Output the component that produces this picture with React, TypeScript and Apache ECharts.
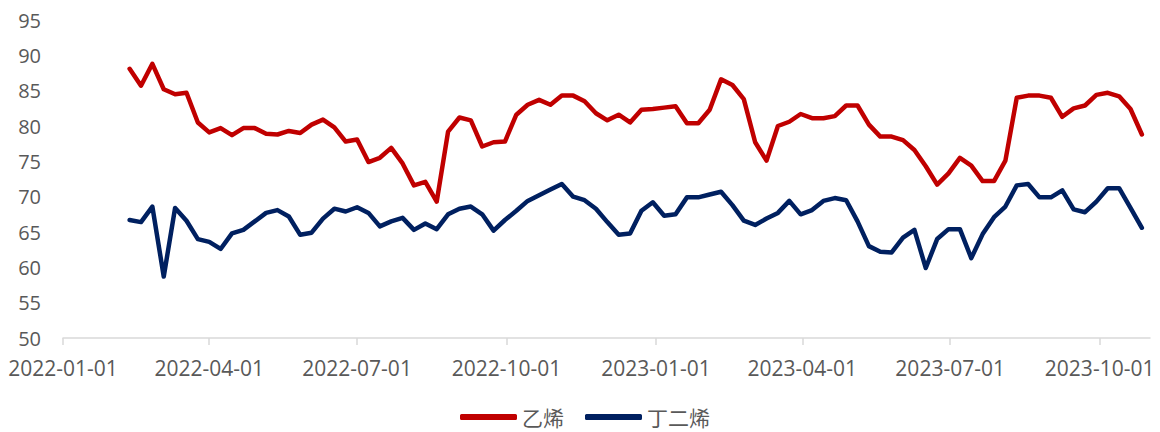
import React, { useEffect, useRef } from "react";
import * as echarts from "echarts";

const weekDates: string[] = [
  "2022-02-11", "2022-02-18", "2022-02-25", "2022-03-04", "2022-03-11", "2022-03-18", "2022-03-25",
  "2022-04-01", "2022-04-08", "2022-04-15", "2022-04-22", "2022-04-29", "2022-05-06", "2022-05-13",
  "2022-05-20", "2022-05-27", "2022-06-03", "2022-06-10", "2022-06-17", "2022-06-24", "2022-07-01",
  "2022-07-08", "2022-07-15", "2022-07-22", "2022-07-29", "2022-08-05", "2022-08-12", "2022-08-19",
  "2022-08-26", "2022-09-02", "2022-09-09", "2022-09-16", "2022-09-23", "2022-09-30", "2022-10-07",
  "2022-10-14", "2022-10-21", "2022-10-28", "2022-11-04", "2022-11-11", "2022-11-18", "2022-11-25",
  "2022-12-02", "2022-12-09", "2022-12-16", "2022-12-23", "2022-12-30", "2023-01-06", "2023-01-13",
  "2023-01-20", "2023-01-27", "2023-02-03", "2023-02-10", "2023-02-17", "2023-02-24", "2023-03-03",
  "2023-03-10", "2023-03-17", "2023-03-24", "2023-03-31", "2023-04-07", "2023-04-14", "2023-04-21",
  "2023-04-28", "2023-05-05", "2023-05-12", "2023-05-19", "2023-05-26", "2023-06-02", "2023-06-09",
  "2023-06-16", "2023-06-23", "2023-06-30", "2023-07-07", "2023-07-14", "2023-07-21", "2023-07-28",
  "2023-08-04", "2023-08-11", "2023-08-18", "2023-08-25", "2023-09-01", "2023-09-08", "2023-09-15",
  "2023-09-22", "2023-09-29", "2023-10-06", "2023-10-13", "2023-10-20", "2023-10-27",
];

const ethylene: number[] = [
  88.1, 85.7, 88.8, 85.2, 84.5, 84.7, 80.5, 79.1, 79.7, 78.7,
  79.7, 79.7, 78.9, 78.8, 79.3, 79.0, 80.2, 80.9, 79.8, 77.8,
  78.1, 74.9, 75.5, 76.9, 74.7, 71.6, 72.1, 69.3, 79.2, 81.2,
  80.8, 77.1, 77.7, 77.8, 81.6, 83.0, 83.7, 83.0, 84.3, 84.3,
  83.5, 81.8, 80.8, 81.6, 80.5, 82.3, 82.4, 82.6, 82.8, 80.4,
  80.4, 82.3, 86.6, 85.8, 83.8, 77.7, 75.1, 80.0, 80.6, 81.7,
  81.1, 81.1, 81.4, 82.9, 82.9, 80.2, 78.5, 78.5, 78.0, 76.6,
  74.3, 71.7, 73.3, 75.5, 74.4, 72.2, 72.2, 75.1, 84.0, 84.3,
  84.3, 84.0, 81.3, 82.5, 82.9, 84.4, 84.7, 84.2, 82.4, 78.8,
];

const butadiene: number[] = [
  66.7, 66.4, 68.6, 58.7, 68.4, 66.6, 64.0, 63.6, 62.6, 64.8,
  65.3, 66.5, 67.7, 68.1, 67.2, 64.6, 64.9, 66.9, 68.3, 67.9,
  68.5, 67.7, 65.8, 66.5, 67.0, 65.3, 66.2, 65.4, 67.5, 68.3,
  68.6, 67.5, 65.2, 66.7, 68.0, 69.4, 70.2, 71.0, 71.8, 70.0,
  69.5, 68.3, 66.4, 64.6, 64.8, 68.0, 69.2, 67.3, 67.5, 69.9,
  69.9, 70.3, 70.7, 68.8, 66.6, 66.0, 66.9, 67.7, 69.4, 67.5,
  68.1, 69.4, 69.8, 69.5, 66.5, 63.0, 62.2, 62.1, 64.2, 65.3,
  59.9, 64.0, 65.4, 65.4, 61.3, 64.7, 67.1, 68.6, 71.6, 71.8,
  69.9, 69.9, 70.9, 68.2, 67.8, 69.3, 71.2, 71.2, 68.4, 65.6,
];

const seriesNames = ["乙烯", "丁二烯"];
const seriesColors = ["#C00000", "#002060"];
const axisStart = "2022-01-01";
const axisEnd = "2023-11-01";
const quarterMonths = ["01", "04", "07", "10"];

function buildDays(start: string, end: string): string[] {
  const out: string[] = [];
  const d = new Date(start + "T00:00:00Z");
  const e = new Date(end + "T00:00:00Z");
  while (d.getTime() <= e.getTime()) {
    out.push(d.toISOString().slice(0, 10));
    d.setUTCDate(d.getUTCDate() + 1);
  }
  return out;
}

const isQuarterStart = (v: string) =>
  v.slice(8, 10) === "01" && quarterMonths.includes(v.slice(5, 7));

export default function App() {
  const ref = useRef<HTMLDivElement>(null);
  useEffect(() => {
    document.body.style.margin = "0";
    if (!ref.current) return;
    const chart = echarts.init(ref.current, undefined, { renderer: "svg" });
    const days = buildDays(axisStart, axisEnd);
    const font = "'Open Sans', 'Noto Sans CJK SC', sans-serif";
    chart.setOption({
      animation: false,
      backgroundColor: "#ffffff",
      grid: { left: 63, right: 10, top: 20, bottom: 94 },
      legend: {
        data: seriesNames,
        left: 460,
        top: 406,
        icon: "roundRect",
        itemWidth: 57,
        itemHeight: 6,
        itemGap: 21,
        padding: 0,
        textStyle: {
          fontSize: 21,
          lineHeight: 22,
          color: "#595959",
          fontFamily: "'Noto Sans CJK SC', sans-serif",
        },
      },
      xAxis: {
        type: "category",
        data: days,
        boundaryGap: false,
        axisLine: { lineStyle: { color: "#D9D9D9", width: 1.5 } },
        axisTick: {
          show: true,
          length: 7,
          interval: (_i: number, v: string) => isQuarterStart(v),
          lineStyle: { color: "#D9D9D9", width: 1.5 },
        },
        axisLabel: {
          interval: (_i: number, v: string) => isQuarterStart(v),
          color: "#595959",
          fontSize: 21,
          fontFamily: font,
          margin: 19,
        },
        splitLine: { show: false },
      },
      yAxis: {
        type: "value",
        min: 50,
        max: 95,
        interval: 5,
        axisLine: { show: false },
        axisTick: { show: false },
        splitLine: { show: false },
        axisLabel: { color: "#595959", fontSize: 20, fontFamily: font, margin: 22 },
      },
      series: [ethylene, butadiene].map((vals, k) => ({
        name: seriesNames[k],
        type: "line",
        data: weekDates.map((d, i) => [d, vals[i]]),
        symbol: "none",
        color: seriesColors[k],
        lineStyle: { width: 4.5, color: seriesColors[k], join: "round", cap: "round" },
      })),
    });
    return () => chart.dispose();
  }, []);
  return <div ref={ref} style={{ width: 1160, height: 432 }} />;
}
